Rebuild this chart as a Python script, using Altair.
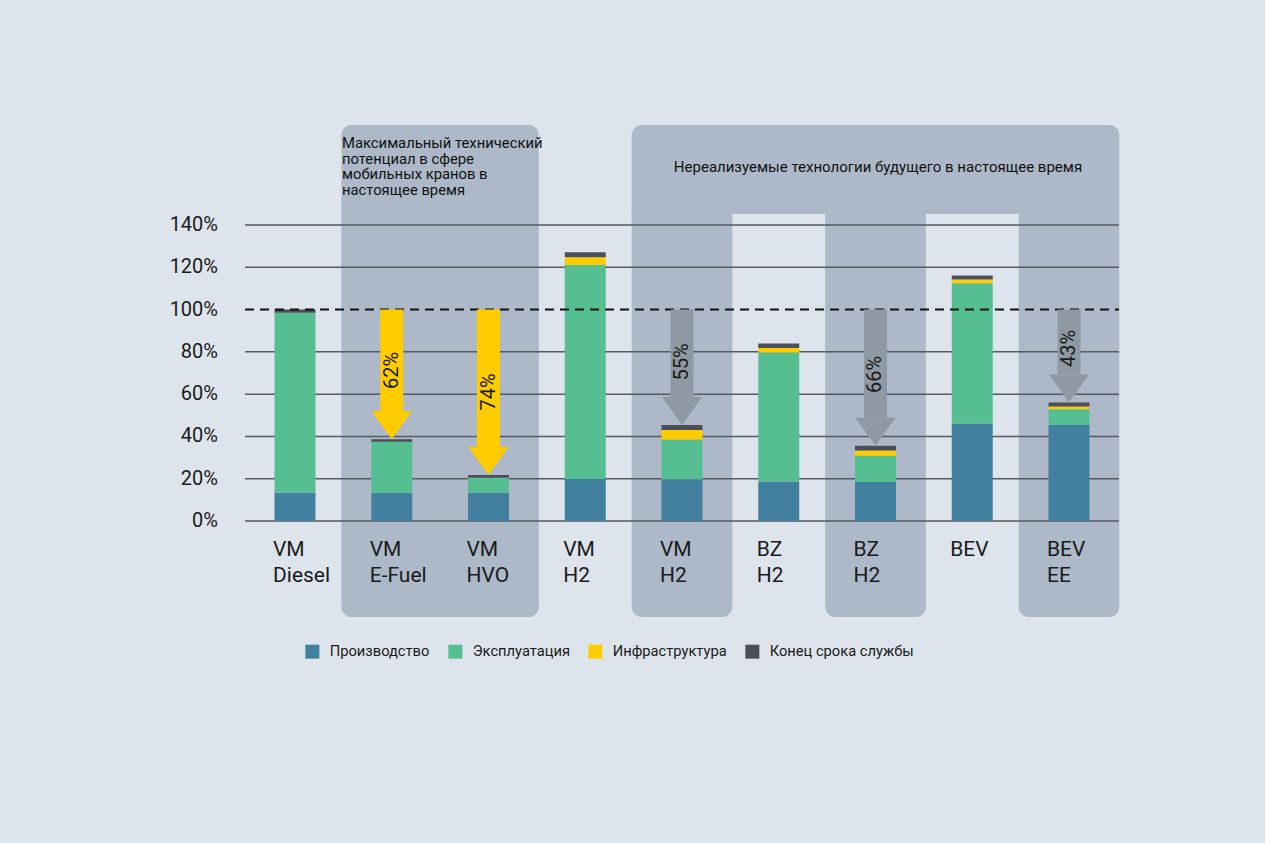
import altair as alt
import pandas as pd

# ---------------- data ----------------
categories = ["VM\nDiesel", "VM\nE-Fuel", "VM\nHVO", "VM\nH2", "VM\nH2",
              "BZ\nH2", "BZ\nH2", "BEV", "BEV\nEE"]
components = ["Производство", "Эксплуатация", "Инфраструктура", "Конец срока службы"]
production = [13.5, 13.4, 13.4, 19.9, 19.7, 18.7, 18.4, 46.1, 45.4]
operation = [85.0, 24.1, 7.0, 101.2, 18.9, 61.0, 12.5, 66.4, 7.4]
infrastructure = [0.0, 0.0, 0.0, 3.6, 4.4, 2.1, 2.5, 1.7, 1.3]
end_of_life = [1.5, 1.2, 1.4, 2.4, 2.4, 2.2, 2.2, 1.9, 2.0]

reference_level = 100
y_ticks = [0, 20, 40, 60, 80, 100, 120, 140]

arrow_bars = [1, 2, 4, 6, 8]
arrow_labels = ["62%", "74%", "55%", "66%", "43%"]
arrow_kind = ["current", "current", "future", "future", "future"]

group_current = [1, 2]           # "Максимальный технический потенциал..."
group_future = [4, 6, 8]         # "Нереализуемые технологии..."

note_current = ["Максимальный технический", "потенциал в сфере",
                "мобильных кранов в", "настоящее время"]
note_future = "Нереализуемые технологии будущего в настоящее время"

# ---------------- layout / style ----------------
W, H = 874, 296
PAD = {"left": 245, "top": 225, "right": 146, "bottom": 322}
PX_PER_UNIT = H / 140.0
XDOM = [-0.5168, 8.5168]
BG = "#DEE4EB"
SHADE = "#ADB9C8"
comp_colors = ["#41809F", "#56BF92", "#FFCC00", "#4B4F59"]
FONT = "Roboto"

def val_from_px(px):
    return px / PX_PER_UNIT

REG_TOP = val_from_px(100 + 296)      # 100px above 140%
REG_BOTTOM = -val_from_px(96)         # 96px below 0%
BAND_BOTTOM = 140 + val_from_px(11)
HALF = 0.52

xs = alt.Scale(domain=XDOM, nice=False, zero=False, padding=0)
ys = alt.Scale(domain=[0, 140], nice=False, zero=False)

# bars
rows = []
for i, cat in enumerate(categories):
    for j, (name, arr) in enumerate(zip(components,
                                        [production, operation, infrastructure, end_of_life])):
        rows.append({"idx": i, "cat": cat, "component": name, "order": j, "value": arr[i]})
bars_df = pd.DataFrame(rows)
totals = [production[i] + operation[i] + infrastructure[i] + end_of_life[i]
          for i in range(len(categories))]

# regions
reg1 = pd.DataFrame([{"x1": min(group_current) - HALF, "x2": max(group_current) + HALF,
                      "y1": REG_BOTTOM, "y2": REG_TOP}])
band = pd.DataFrame([{"x1": min(group_future) - HALF, "x2": max(group_future) + HALF,
                      "y1": BAND_BOTTOM, "y2": REG_TOP}])
cols = pd.DataFrame([{"x1": g - HALF, "x2": g + HALF, "y1": REG_BOTTOM, "y2": BAND_BOTTOM + 1}
                     for g in group_future])

def region(df, **radius):
    return alt.Chart(df).mark_rect(color=SHADE, **radius).encode(
        x=alt.X("x1:Q", scale=xs, axis=None), x2="x2:Q",
        y=alt.Y("y1:Q", scale=ys, axis=None), y2="y2:Q")

r1 = region(reg1, cornerRadius=10)
r2 = region(band, cornerRadiusTopLeft=10, cornerRadiusTopRight=10)
r3 = region(cols, cornerRadiusBottomLeft=10, cornerRadiusBottomRight=10)

# grid
grid_df = pd.DataFrame({"y": [t for t in y_ticks if t != reference_level]})
grid = alt.Chart(grid_df).mark_rule(color="#555A61", strokeWidth=1.5).encode(
    y=alt.Y("y:Q", scale=ys, axis=None), x=alt.value(0), x2=alt.value(W))

bars = alt.Chart(bars_df).mark_bar(size=41).encode(
    x=alt.X("idx:Q", scale=xs, axis=None),
    y=alt.Y("value:Q", stack="zero", scale=ys, axis=None),
    color=alt.Color("component:N",
                    scale=alt.Scale(domain=components, range=comp_colors),
                    legend=alt.Legend(orient="none", legendX=60, legendY=419,
                                      direction="horizontal", title=None,
                                      symbolType="square", symbolSize=196,
                                      symbolStrokeWidth=0, labelFontSize=14.7,
                                      labelFont=FONT, labelColor="#1a1a1a",
                                      labelOffset=10, columnPadding=18)),
    order=alt.Order("order:Q"),
)

# dashed 100% line
ref_line = alt.Chart(pd.DataFrame({"y": [reference_level]})).mark_rule(
    color="#111111", strokeWidth=2, strokeDash=[9, 6]).encode(
    y=alt.Y("y:Q", scale=ys, axis=None), x=alt.value(0), x2=alt.value(W))

# arrows
head_h = val_from_px(28)
arr_rows = []
for b, lab, k in zip(arrow_bars, arrow_labels, arrow_kind):
    tip = totals[b]
    start = tip + head_h
    arr_rows.append({"idx": b, "label": lab, "kind": k, "tip": tip, "start": start,
                     "top": reference_level,
                     "ly": reference_level - 0.6 * (reference_level - start)})
arr_df = pd.DataFrame(arr_rows)
arr_color = alt.Color("kind:N", scale=alt.Scale(domain=["current", "future"],
                                               range=["#FFCC00", "#8E99A3"]), legend=None)
shaft = alt.Chart(arr_df).mark_bar(size=23).encode(
    x=alt.X("idx:Q", scale=xs, axis=None),
    y=alt.Y("top:Q", scale=ys, axis=None), y2="start:Q", color=arr_color)
head = alt.Chart(arr_df).mark_point(shape="M-1,-1.4L1,-1.4L0,0Z", filled=True,
                                    size=1600, opacity=1, strokeWidth=0).encode(
    x=alt.X("idx:Q", scale=xs, axis=None),
    y=alt.Y("tip:Q", scale=ys, axis=None), color=arr_color)
arr_text = alt.Chart(arr_df).mark_text(angle=270, align="center", baseline="middle",
                                       fontSize=20, font=FONT, color="#1a1a1a").encode(
    x=alt.X("idx:Q", scale=xs, axis=None),
    y=alt.Y("ly:Q", scale=ys, axis=None), text="label:N")

# y labels
ylab = alt.Chart(pd.DataFrame({"y": y_ticks, "t": [f"{t}%" for t in y_ticks]})).mark_text(
    align="right", baseline="middle", fontSize=20, font=FONT, color="#1a1a1a").encode(
    y=alt.Y("y:Q", scale=ys, axis=None), x=alt.value(-27), text="t:N")

# x labels
xlab = alt.Chart(pd.DataFrame({"idx": list(range(len(categories))), "cat": categories})).mark_text(
    align="left", baseline="alphabetic", fontSize=21, font=FONT, color="#1a1a1a",
    lineBreak="\n", lineHeight=26, dx=-22).encode(
    x=alt.X("idx:Q", scale=xs, axis=None), y=alt.value(331), text="cat:N")

# notes
n1 = alt.Chart(pd.DataFrame({"t": ["\n".join(note_current)]})).mark_text(
    align="left", baseline="middle", fontSize=14.8, font=FONT, color="#111111",
    lineBreak="\n", lineHeight=15.5).encode(
    x=alt.value(97), y=alt.value(-81), text="t:N")
n2 = alt.Chart(pd.DataFrame({"t": [note_future]})).mark_text(
    align="center", baseline="middle", fontSize=15, font=FONT, color="#111111").encode(
    x=alt.value(633), y=alt.value(-58), text="t:N")

chart = alt.layer(r1, r2, r3, grid, bars, ref_line, shaft, head, arr_text,
                  ylab, xlab, n1, n2).resolve_scale(color="independent").properties(
    width=W, height=H, autosize=alt.AutoSizeParams(type="none"), padding=PAD,
    background=BG
).configure_view(stroke=None)

chart.save("out.html", embed_options={"renderer": "svg", "actions": False})
